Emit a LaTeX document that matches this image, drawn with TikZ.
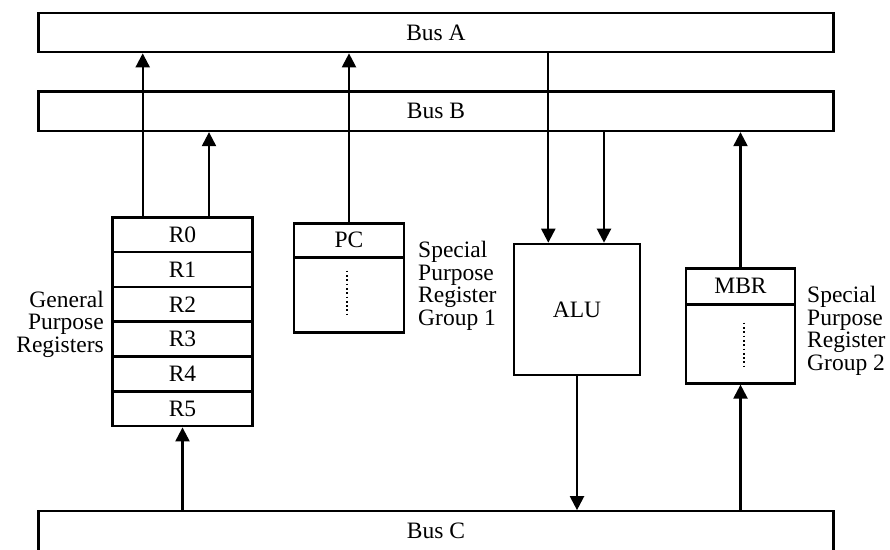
\documentclass[tikz,border=0pt]{standalone}
\usepackage{fontspec}
\setmainfont{Liberation Serif}
\usetikzlibrary{arrows.meta}
\begin{document}
\begin{tikzpicture}[x=1pt,y=-1pt,
  font=\fontsize{23.5}{22.5}\selectfont,
  bus/.style={draw, line width=2.2pt, minimum width=795pt, minimum height=39.5pt, inner sep=0pt},
  box/.style={draw, line width=2.6pt, inner sep=0pt},
  reg/.style={box, minimum width=140.4pt, minimum height=34.8pt},
  arr/.style={line width=2.2pt, -{Triangle[width=14pt,length=14pt]}},
  dots/.style={line width=1.7pt, dash pattern=on 1.7pt off 2.6pt},
  lab/.style={align=left, inner sep=0pt}]
\useasboundingbox (0,0) rectangle (890,549);
\clip (0,0) rectangle (890,549);

% buses
\node[bus] (busA) at (436,32.5) {Bus A};
\node[bus] (busB) at (436,111.3) {Bus B};
\node[bus] (busC) at (436,531) {Bus C};

% general purpose registers
\node[reg] (r0) at (182.5,234.7) {R0};
\node[reg] (r1) at (182.5,269.5) {R1};
\node[reg] (r2) at (182.5,304.3) {R2};
\node[reg] (r3) at (182.5,339.1) {R3};
\node[reg] (r4) at (182.5,373.9) {R4};
\node[reg] (r5) at (182.5,408.7) {R5};
\node[lab, anchor=east, align=right] (gpr) at (104,324) {General\\Purpose\\Registers};

% special purpose group 1
\node[box, minimum width=110pt, minimum height=34pt] (pc) at (349,240.3) {PC};
\node[box, minimum width=110pt, minimum height=75.4pt] (pcrest) at (349,295) {};
\draw[dots] ([xshift=-2pt,yshift=24.3pt]pcrest.center) -- ([xshift=-2pt,yshift=-19.3pt]pcrest.center);
\node[lab, anchor=west] (sp1) at (418,286) {Special\\Purpose\\Register\\Group 1};

% ALU
\node[box, minimum width=126pt, minimum height=131pt] (alu) at (577,309.5) {ALU};

% special purpose group 2
\node[box, minimum width=109pt, minimum height=36pt] (mbr) at (740.5,286.3) {MBR};
\node[box, minimum width=109pt, minimum height=79pt] (mbrrest) at (740.5,343.8) {};
\draw[dots] ([xshift=3.5pt,yshift=21.1pt]mbrrest.center) -- ([xshift=3.5pt,yshift=-22.9pt]mbrrest.center);
\node[lab, anchor=west] (sp2) at (807,331) {Special\\Purpose\\Register\\Group 2};

% connectors
\coordinate (r0a) at ([xshift=-39.8pt]r0.north);
\coordinate (r0b) at ([xshift=26.5pt]r0.north);
\coordinate (alua) at ([xshift=-28.7pt]alu.north);
\coordinate (alub) at ([xshift=27pt]alu.north);
\draw[arr] (r0a) -- (r0a |- busA.south);
\draw[arr] (r0b) -- (r0b |- busB.south);
\draw[arr] (pc.north) -- (pc.north |- busA.south);
\draw[arr] (alua |- busA.south) -- (alua);
\draw[arr] (alub |- busB.south) -- (alub);
\draw[arr] (alu.south) -- (alu.south |- busC.north);
\draw[arr] (mbr.north) -- (mbr.north |- busB.south);
\draw[arr] (mbrrest.south |- busC.north) -- (mbrrest.south);
\draw[arr] (r5.south |- busC.north) -- (r5.south);
\end{tikzpicture}
\end{document}
